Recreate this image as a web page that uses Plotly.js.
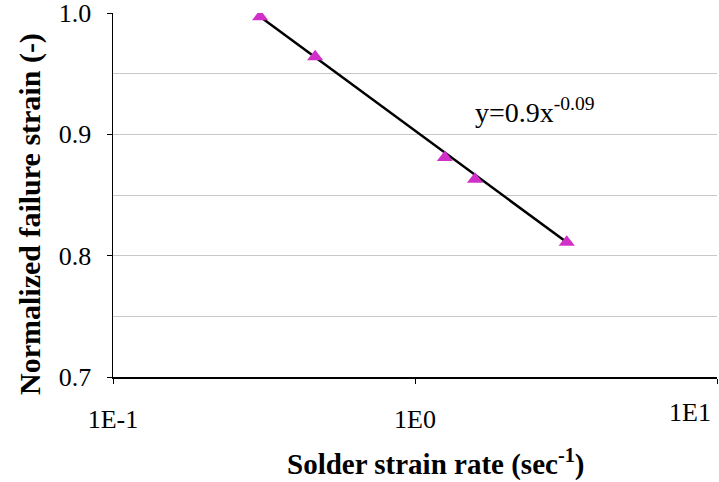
<!DOCTYPE html>
<html>
<head>
<meta charset="utf-8">
<script src="https://cdn.plot.ly/plotly-3.0.1.min.js"></script>
<style>html,body{margin:0;padding:0;background:#fff;}#chart{width:719px;height:482px;}</style>
</head>
<body>
<div id="chart"></div>
<script>
// Data
const strainRate = [0.307, 0.467, 1.256, 1.58, 3.18];
const normFailureStrain = [0.997, 0.964, 0.881, 0.863, 0.811];
// Trendline endpoints (power fit y = 0.9x^-0.09), drawn over the data range
const trendX = [0.307, 3.18];
const trendY = [0.997, 0.811];
const xTickVals = [0.1, 1, 10];
const xTickText = ['1E-1', '1E0', ''];
const yTickVals = [0.7, 0.8, 0.9, 1.0];
const yTickText = ['0.7', '0.8', '0.9', '1.0'];

const serif = 'Liberation Serif';

const traces = [
  {x: trendX, y: trendY, mode: 'lines', line: {color: '#000', width: 2.5}, hoverinfo: 'skip', showlegend: false},
  {x: strainRate, y: normFailureStrain, mode: 'markers',
   marker: {symbol: 'triangle-up', size: 14, color: '#d030c8'}, showlegend: false}
];

const layout = {
  width: 719, height: 482,
  margin: {l: 113, r: 2, t: 13, b: 105},
  paper_bgcolor: '#fff', plot_bgcolor: '#fff',
  font: {family: serif, size: 24, color: '#000'},
  showlegend: false,
  xaxis: {
    type: 'log', range: [-1, 1], tickvals: xTickVals, ticktext: xTickText,
    showgrid: false, zeroline: false, showline: true, linecolor: '#000', linewidth: 1.5,
    ticks: 'outside', ticklen: 5, tickcolor: '#000', tickwidth: 1,
    ticklabelstandoff: 13, ticklabeloverflow: 'allow',
    tickfont: {family: serif, size: 26, color: '#000'}
  },
  yaxis: {
    range: [0.7, 1.0], tickvals: yTickVals, ticktext: yTickText,
    showgrid: true, gridcolor: '#c8c8c8', gridwidth: 1,
    minor: {dtick: 0.05, tick0: 0.7, showgrid: true, gridcolor: '#c8c8c8', gridwidth: 1, ticks: ''},
    zeroline: false, showline: true, linecolor: '#000', linewidth: 1.5,
    ticks: 'outside', ticklen: 5, tickcolor: '#000', tickwidth: 1,
    ticklabelstandoff: 10, ticklabeloverflow: 'allow',
    tickfont: {family: serif, size: 26, color: '#000'}
  },
  annotations: [
    {xref: 'x', yref: 'paper', x: 1, y: 0, xanchor: 'center', yanchor: 'top', xshift: -27, yshift: -19,
     text: '1E1', showarrow: false, font: {family: serif, size: 26, color: '#000'}},
    {xref: 'paper', yref: 'paper', x: 0.5, y: 0, xshift: 20, yshift: -85, xanchor: 'center', yanchor: 'middle',
     text: '<b>Solder strain rate (sec<sup>-1</sup>)</b>', showarrow: false,
     font: {family: serif, size: 29, color: '#000'}},
    {xref: 'paper', yref: 'paper', x: 0, y: 0.5, xshift: -83, yshift: -19, xanchor: 'center', yanchor: 'middle',
     textangle: -90, text: '<b>Normalized failure strain (-)</b>', showarrow: false,
     font: {family: serif, size: 30, color: '#000'}},
    {xref: 'x', yref: 'y', x: Math.log10(1.556), y: 0.92, xanchor: 'left', yanchor: 'middle',
     text: 'y=0.9x<sup>-0.09</sup>', showarrow: false, font: {family: serif, size: 28, color: '#000'}}
  ]
};

Plotly.newPlot('chart', traces, layout, {staticPlot: true, displayModeBar: false});
</script>
</body>
</html>
